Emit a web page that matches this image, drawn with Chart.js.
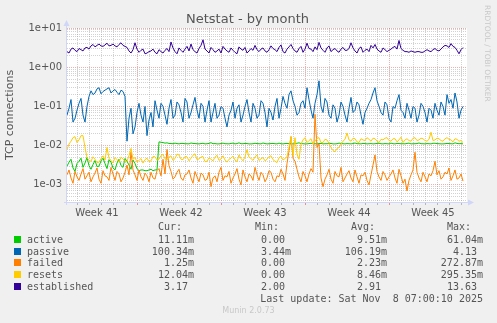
<!DOCTYPE html>
<html>
<head>
<meta charset="utf-8">
<script src="https://cdn.jsdelivr.net/npm/chart.js@4.4.1/dist/chart.umd.min.js"></script>
<style>
  html, body { margin: 0; padding: 0; background: #f0f0f0; }
  #wrap { position: relative; width: 497px; height: 323px; overflow: hidden; }
  #myChart { position: absolute; left: 0; top: 0; }
  .txt { position: absolute; white-space: pre; line-height: 12px; color: #555; }
  .title { font: 13px "DejaVu Sans", sans-serif; color: #555; }
  .mono { font: 10px "DejaVu Sans Mono", monospace; }
  .r { text-align: right; }
  .box { position: absolute; width: 7px; height: 7px; }
  .side { font: 7.5px "DejaVu Sans", sans-serif; color: #c8c8c8; writing-mode: vertical-rl; line-height: 9px; }
  .foot { font: 8px "DejaVu Sans", sans-serif; color: #c8c8c8; }
</style>
</head>
<body>
<div id="wrap">
  <canvas id="myChart" width="497" height="323"></canvas>
  <div class="txt title" style="left:0; width:495px; top:11px; text-align:center;">Netstat - by month</div>
  <div class="txt side" style="left:483px; top:5px;">RRDTOOL / TOBI OETIKER</div>
  <div id="legend"></div>
  <div class="txt foot" style="left:0; width:497px; top:306px; text-align:center;">Munin 2.0.73</div>
</div>
<script>
// samples every 4 hours; hour 0 is the left edge of the graph
const lastSample = 792;

const active = [
  0.003, 0.0038, 0.0045, 0.0027, 0.0022, 0.0035, 0.004, 0.0048, 0.0028, 0.0036,
  0.005, 0.0031, 0.0025, 0.0033, 0.0042, 0.0029, 0.003, 0.0041, 0.0048, 0.0035,
  0.0026, 0.0044, 0.0038, 0.0027, 0.0024, 0.0036, 0.0045, 0.0031, 0.0028, 0.0047,
  0.004, 0.0032, 0.0025, 0.0043, 0.0035, 0.0026, 0.0023, 0.0024, 0.0024, 0.0023,
  0.0023, 0.0024, 0.0025, 0.0023, 0.0024, 0.0024,
  0.0125, 0.0122, 0.012, 0.0116, 0.0118, 0.0114, 0.0113, 0.0112, 0.0116, 0.0113,
  0.0111, 0.0114, 0.0114, 0.0112, 0.0112, 0.0111, 0.0117, 0.0114, 0.0113, 0.0112,
  0.0111, 0.0113, 0.0115, 0.0111, 0.0112, 0.0114, 0.0119, 0.0112, 0.0113, 0.0111,
  0.0111, 0.0113, 0.0116, 0.0112, 0.0112, 0.0111, 0.0114, 0.0116, 0.0111, 0.0113,
  0.0118, 0.0112, 0.0112, 0.0114, 0.0113, 0.0111, 0.0111, 0.0112, 0.0115, 0.0113,
  0.0112, 0.0111, 0.0117, 0.0113, 0.0111, 0.0112, 0.0113, 0.0114, 0.0112, 0.0111,
  0.0116, 0.0112, 0.0111, 0.0113, 0.0114, 0.0112, 0.0112, 0.0111, 0.0113, 0.0115,
  0.0118, 0.0113, 0.0112, 0.0111, 0.0111, 0.0113, 0.0115, 0.0112, 0.0112, 0.0111,
  0.0113, 0.0114, 0.0111, 0.0112, 0.0112, 0.0113, 0.0114, 0.0111, 0.0111, 0.0112,
  0.0116, 0.0114, 0.0112, 0.0111, 0.0113, 0.0112, 0.0111, 0.0113, 0.0117, 0.0112,
  0.0112, 0.0111, 0.0114, 0.0113, 0.0111, 0.0112, 0.0113, 0.0111, 0.0112, 0.0114,
  0.0115, 0.0112, 0.0111, 0.0113, 0.0112, 0.0111, 0.0116, 0.0112, 0.0111, 0.0114,
  0.0113, 0.0112, 0.0112, 0.0111, 0.0114, 0.0116, 0.0111, 0.0112, 0.0112, 0.0113,
  0.0117, 0.0112, 0.0112, 0.0111, 0.0113, 0.0112, 0.0111, 0.0115, 0.0115, 0.0113,
  0.0112, 0.0111, 0.0111, 0.0112, 0.0114, 0.0113, 0.0112, 0.0111, 0.0118, 0.0114,
  0.0112, 0.0113, 0.01111
];

const passive = [
  0.06, 0.09, 0.15, 0.04, 0.05, 0.08, 0.12, 0.16, 0.06, 0.04,
  0.1, 0.18, 0.25, 0.2, 0.22, 0.28, 0.3, 0.21, 0.24, 0.26,
  0.28, 0.3, 0.22, 0.25, 0.27, 0.23, 0.2, 0.26, 0.24, 0.18,
  0.013, 0.05, 0.09, 0.02, 0.03, 0.07, 0.12, 0.06, 0.04, 0.1,
  0.018, 0.045, 0.07, 0.03, 0.14, 0.08, 0.05, 0.12, 0.1, 0.06,
  0.035, 0.09, 0.15, 0.05, 0.06, 0.13, 0.11, 0.07, 0.04, 0.16,
  0.13, 0.05, 0.07, 0.11, 0.17, 0.08, 0.05, 0.12, 0.1, 0.04,
  0.08, 0.14, 0.04, 0.07, 0.12, 0.05, 0.06, 0.1, 0.09, 0.05,
  0.03, 0.06, 0.08, 0.13, 0.05, 0.09, 0.11, 0.04, 0.06, 0.1,
  0.15, 0.07, 0.04, 0.12, 0.09, 0.05, 0.06, 0.14, 0.12, 0.07,
  0.03, 0.09, 0.07, 0.045, 0.1, 0.16, 0.05, 0.09, 0.18, 0.12,
  0.09, 0.2, 0.25, 0.14, 0.1, 0.06, 0.07, 0.12, 0.14, 0.09,
  0.3, 0.15, 0.08, 0.05, 0.12, 0.2, 0.45, 0.1, 0.07, 0.16,
  0.13, 0.06, 0.05, 0.11, 0.09, 0.04, 0.06, 0.13, 0.1, 0.06,
  0.04, 0.09, 0.17, 0.07, 0.08, 0.13, 0.11, 0.06, 0.035, 0.07,
  0.09, 0.12, 0.15, 0.22, 0.3, 0.14, 0.1, 0.07, 0.06, 0.13,
  0.11, 0.05, 0.04, 0.1, 0.09, 0.14, 0.2, 0.08, 0.07, 0.05,
  0.12, 0.08, 0.05, 0.1, 0.09, 0.04, 0.06, 0.12, 0.1, 0.07,
  0.04, 0.09, 0.08, 0.05, 0.12, 0.08, 0.06, 0.13, 0.1, 0.06,
  0.2, 0.12, 0.15, 0.09, 0.22, 0.13, 0.05, 0.08, 0.10034
];

const failed = [
  0.0018, 0.0024, 0.0015, 0.0011, 0.0022, 0.0016, 0.0013, 0.0019, 0.0026, 0.0014,
  0.0017, 0.0021, 0.0012, 0.0016, 0.002, 0.0027, 0.0014, 0.0011, 0.0023, 0.0017,
  0.0016, 0.0013, 0.0028, 0.0019, 0.0013, 0.0022, 0.0019, 0.0012, 0.0015, 0.0021,
  0.0032, 0.0018, 0.007, 0.0024, 0.0018, 0.0013, 0.0024, 0.0016, 0.0013, 0.002,
  0.0017, 0.0012, 0.0021, 0.0015, 0.0014, 0.0023, 0.0026, 0.0017, 0.0045, 0.0019,
  0.008, 0.0031, 0.0022, 0.0014, 0.0016, 0.0021, 0.0025, 0.0015, 0.0013, 0.0018,
  0.0019, 0.0024, 0.0015, 0.0011, 0.0022, 0.0016, 0.0012, 0.002, 0.0018, 0.0013,
  0.0014, 0.0021, 0.0009, 0.0015, 0.0017, 0.0012, 0.0021, 0.0028, 0.0013, 0.0017,
  0.0016, 0.0022, 0.0011, 0.0015, 0.0019, 0.0026, 0.0014, 0.001, 0.0024, 0.0016,
  0.0012, 0.0019, 0.0017, 0.0013, 0.0028, 0.0018, 0.0013, 0.0021, 0.0018, 0.0012,
  0.0015, 0.0023, 0.0021, 0.0014, 0.0012, 0.0017, 0.0016, 0.0025, 0.0019, 0.0013,
  0.0035, 0.0075, 0.017, 0.0048, 0.004, 0.0025, 0.0016, 0.0012, 0.0022, 0.0017,
  0.0012, 0.0019, 0.0026, 0.0021, 0.063, 0.009, 0.011, 0.0015, 0.0009, 0.0014,
  0.0018, 0.0025, 0.0014, 0.0011, 0.0022, 0.0017, 0.0016, 0.0028, 0.0012, 0.0015,
  0.0019, 0.0023, 0.0015, 0.0012, 0.0024, 0.0016, 0.0011, 0.0018, 0.0017, 0.0021,
  0.0013, 0.001, 0.0018, 0.0032, 0.0058, 0.0022, 0.0016, 0.0013, 0.0022, 0.0018,
  0.0013, 0.0016, 0.0019, 0.0024, 0.0015, 0.0011, 0.0025, 0.0017, 0.0011, 0.0014,
  0.0007, 0.0013, 0.0018, 0.0024, 0.0068, 0.0021, 0.0015, 0.0012, 0.0021, 0.0016,
  0.0012, 0.0019, 0.0017, 0.0023, 0.004, 0.0018, 0.0023, 0.0014, 0.0016, 0.0021,
  0.0019, 0.0027, 0.0013, 0.0017, 0.0024, 0.0014, 0.0015, 0.0019, 0.00125
];

const resets = [
  0.008, 0.011, 0.013, 0.016, 0.017, 0.012, 0.014, 0.018, 0.018, 0.009,
  0.005, 0.0042, 0.004, 0.0052, 0.0045, 0.0037, 0.0038, 0.0047, 0.0055, 0.0043,
  0.009, 0.0048, 0.0042, 0.0036, 0.005, 0.0044, 0.0038, 0.0051, 0.0046, 0.0039,
  0.004, 0.0056, 0.0085, 0.0045, 0.005, 0.0038, 0.0042, 0.0047, 0.0036, 0.0044,
  0.0048, 0.0039, 0.0041, 0.0053, 0.0052, 0.0043, 0.0045, 0.0056, 0.006, 0.0046,
  0.0043, 0.0051, 0.0055, 0.0042, 0.0047, 0.0061, 0.0058, 0.0045, 0.0044, 0.0053,
  0.0052, 0.0041, 0.0048, 0.0057, 0.0062, 0.0044, 0.0046, 0.0051, 0.0053, 0.0039,
  0.004, 0.0049, 0.0045, 0.0041, 0.0051, 0.0057, 0.0042, 0.0046, 0.0055, 0.0043,
  0.0038, 0.0045, 0.0048, 0.0054, 0.0043, 0.0039, 0.0058, 0.0047, 0.0041, 0.0052,
  0.0079, 0.0051, 0.0047, 0.0042, 0.0052, 0.0058, 0.0042, 0.0046, 0.005, 0.0041,
  0.0045, 0.0053, 0.0055, 0.0044, 0.004, 0.0037, 0.0049, 0.0054, 0.0043, 0.0047,
  0.0052, 0.009, 0.017, 0.0055, 0.016, 0.006, 0.0045, 0.011, 0.014, 0.016,
  0.012, 0.0135, 0.015, 0.011, 0.013, 0.0155, 0.016, 0.012, 0.012, 0.0145,
  0.014, 0.0115, 0.009, 0.0075, 0.007, 0.0085, 0.009, 0.011, 0.013, 0.0145,
  0.021, 0.014, 0.013, 0.0155, 0.015, 0.0125, 0.012, 0.015, 0.014, 0.0135,
  0.016, 0.0145, 0.013, 0.0155, 0.015, 0.013, 0.012, 0.0145, 0.014, 0.0155,
  0.016, 0.0135, 0.013, 0.015, 0.015, 0.0125, 0.014, 0.0165, 0.012, 0.014,
  0.015, 0.0135, 0.013, 0.0155, 0.016, 0.0135, 0.014, 0.0155, 0.015, 0.0135,
  0.013, 0.0145, 0.022, 0.0135, 0.014, 0.0155, 0.015, 0.0135, 0.013, 0.015,
  0.016, 0.0145, 0.014, 0.0125, 0.015, 0.0145, 0.013, 0.0135, 0.01204
];

const established = [
  2.5, 2.3, 2.9, 3.1, 2.7, 2.5, 3.0, 2.8, 2.6, 3.1,
  3.2, 2.9, 3.5, 3.8, 3.3, 3.6, 3.9, 3.5, 3.4, 3.7,
  4.1, 3.5, 3.6, 3.9, 3.5, 3.3, 3.8, 4.2, 3.6, 3.4,
  3.2, 2.6, 2.3, 2.8, 4.2, 2.9, 2.4, 2.7, 2.9, 2.2,
  2.3, 2.5, 2.6, 2.9, 2.4, 2.2, 2.8, 2.5, 2.3, 2.7,
  3.0, 2.5, 4.4, 3.1, 2.5, 2.2, 3.1, 2.7, 2.4, 2.9,
  3.4, 2.6, 3.9, 2.8, 2.5, 2.3, 3.0, 3.6, 5.0, 2.9,
  2.6, 2.3, 3.2, 2.8, 2.4, 2.6, 2.9, 2.3, 3.4, 2.9,
  2.6, 2.4, 3.1, 2.7, 2.4, 2.2, 3.3, 2.9, 2.7, 3.2,
  2.3, 2.6, 3.0, 2.7, 3.6, 2.8, 2.5, 2.9, 3.1, 2.6,
  2.4, 2.8, 3.5, 3.0, 2.8, 2.5, 3.2, 3.7, 2.5, 2.3,
  2.9, 3.3, 3.8, 3.0, 2.6, 2.4, 3.0, 3.4, 2.4, 2.9,
  4.1, 3.0, 2.9, 2.5, 3.3, 2.8, 4.3, 3.1, 2.7, 2.4,
  3.1, 3.5, 2.5, 2.8, 3.0, 2.6, 2.4, 2.9, 3.2, 2.7,
  2.7, 3.0, 4.2, 3.1, 2.6, 2.3, 3.0, 3.3, 2.4, 2.7,
  2.9, 2.5, 3.6, 3.1, 3.8, 2.9, 2.6, 2.4, 3.1, 2.8,
  2.5, 2.7, 2.9, 3.2, 3.4, 2.9, 4.8, 3.0, 2.7, 2.5,
  2.5, 2.4, 2.6, 2.5, 2.4, 2.5, 2.5, 2.4, 2.4, 2.6,
  2.8, 2.6, 2.5, 2.8, 3.0, 2.7, 2.6, 2.9, 3.3, 3.6,
  3.5, 3.2, 4.0, 3.4, 3.2, 2.7, 2.2, 2.8, 3.17
];

const seriesNames = ['active', 'passive', 'failed', 'resets', 'established'];
const seriesColors = ['#00cc00', '#0066b3', '#ff8000', '#ffcc00', '#330099'];
const seriesData = [active, passive, failed, resets, established];

// summary columns as printed under the graph
const curValues = ['11.11m', '100.34m', '1.25m', '12.04m', '3.17 '];
const minValues = ['0.00 ', '3.44m', '0.00 ', '0.00 ', '2.00 '];
const avgValues = ['9.51m', '106.19m', '2.23m', '8.46m', '2.91 '];
const maxValues = ['61.04m', '4.13 ', '272.87m', '295.35m', '13.63 '];

const weekLabels = ['Week 41', 'Week 42', 'Week 43', 'Week 44', 'Week 45'];
const firstMonday = 140;    // hour of the first week boundary
const firstMidnight = 20;   // hour of the first day line
const endHour = 800;
const yMin = 3.66e-4;
const yMax = 10;

const weekStarts = weekLabels.slice(1).map((_, k) => firstMonday + k * 168);
const labelHours = weekLabels.map((_, k) => firstMonday - 80 + k * 168);

function toPoints(values) {
    let step = lastSample / (values.length - 1);
    return values.map((v, j) => ({ x: j * step, y: v }));
}

function expLabel(v) {
    let e = Math.round(Math.log10(v));
    let s = Math.abs(e) < 10 ? '0' + Math.abs(e) : '' + Math.abs(e);
    return '1e' + (e < 0 ? '-' : '+') + s;
}

function isDecade(v) {
    let l = Math.log10(v);
    return Math.abs(l - Math.round(l)) < 1e-9;
}

// white plot background plus the axis lines with their arrow heads
const frame = {
    id: 'frame',
    beforeDraw(chart) {
        const { ctx, chartArea: a } = chart;
        ctx.save();
        ctx.fillStyle = '#ffffff';
        ctx.fillRect(a.left, a.top, a.right - a.left, a.bottom - a.top);
        ctx.restore();
    },
    afterDraw(chart) {
        const { ctx, chartArea: a } = chart;
        ctx.save();
        ctx.strokeStyle = '#cfd6f8';
        ctx.fillStyle = '#cfd6f8';
        ctx.lineWidth = 1;
        ctx.beginPath();
        ctx.moveTo(a.left - 0.5, a.bottom + 3);
        ctx.lineTo(a.left - 0.5, a.top - 4);
        ctx.moveTo(a.left - 3, a.bottom + 0.5);
        ctx.lineTo(a.right + 3, a.bottom + 0.5);
        ctx.stroke();
        ctx.beginPath();
        ctx.moveTo(a.left - 0.5, a.top - 8);
        ctx.lineTo(a.left - 3.5, a.top - 2);
        ctx.lineTo(a.left + 2.5, a.top - 2);
        ctx.fill();
        ctx.beginPath();
        ctx.moveTo(a.right + 7, a.bottom + 0.5);
        ctx.lineTo(a.right + 1, a.bottom - 2.5);
        ctx.lineTo(a.right + 1, a.bottom + 3.5);
        ctx.fill();
        ctx.restore();
    }
};

const ctx = document.getElementById('myChart').getContext('2d');

const myChart = new Chart(ctx, {
    type: 'line',
    data: {
        datasets: seriesNames.map((name, i) => ({
            label: name,
            data: toPoints(seriesData[i]),
            borderColor: seriesColors[i],
            borderWidth: 1,
            pointRadius: 0,
            tension: 0,
            fill: false,
            order: seriesNames.length - i
        }))
    },
    options: {
        responsive: false,
        animation: false,
        devicePixelRatio: 1,
        layout: { padding: { top: 28, right: 30, left: 0, bottom: 0 } },
        plugins: {
            legend: { display: false },
            tooltip: { enabled: false }
        },
        scales: {
            x: {
                type: 'linear',
                min: 0,
                max: endHour,
                afterBuildTicks: scale => {
                    let t = [];
                    for (let h = firstMidnight; h < endHour; h += 24) t.push({ value: h });
                    labelHours.forEach(h => t.push({ value: h }));
                    t.sort((a, b) => a.value - b.value);
                    scale.ticks = t;
                },
                afterFit: scale => { scale.height = 121; },
                border: { display: false, dash: [1, 1] },
                grid: {
                    color: c => {
                        let v = c.tick.value;
                        if (labelHours.includes(v)) return 'rgba(0,0,0,0)';
                        return weekStarts.includes(v) ? 'rgba(222,79,79,0.45)' : 'rgba(143,143,143,0.4)';
                    },
                    tickColor: c => {
                        let v = c.tick.value;
                        if (labelHours.includes(v)) return 'rgba(0,0,0,0)';
                        return weekStarts.includes(v) ? 'rgba(222,79,79,0.6)' : 'rgba(143,143,143,0.6)';
                    },
                    tickLength: 3,
                    lineWidth: 1
                },
                ticks: {
                    autoSkip: false,
                    maxRotation: 0,
                    padding: 2,
                    color: '#555',
                    font: { family: 'DejaVu Sans', size: 10 },
                    callback: v => {
                        let k = labelHours.indexOf(v);
                        return k >= 0 ? weekLabels[k] : '';
                    }
                }
            },
            y: {
                type: 'logarithmic',
                min: yMin,
                max: yMax,
                afterBuildTicks: scale => {
                    let t = [];
                    for (let e = -4; e <= 1; e++) {
                        for (let m = 1; m <= 9; m++) {
                            let v = m * Math.pow(10, e);
                            if (v >= yMin && v <= yMax * 1.0001) t.push({ value: v });
                        }
                    }
                    scale.ticks = t;
                },
                afterFit: scale => { scale.width = 67; },
                border: { display: false, dash: [1, 1] },
                grid: {
                    color: c => isDecade(c.tick.value) ? 'rgba(222,79,79,0.45)' : 'rgba(143,143,143,0.4)',
                    drawTicks: false,
                    lineWidth: 1
                },
                ticks: {
                    autoSkip: false,
                    padding: 5,
                    color: '#555',
                    font: { family: 'DejaVu Sans', size: 10 },
                    callback: v => isDecade(v) ? expLabel(v) : ''
                },
                title: {
                    display: true,
                    text: 'TCP connections',
                    color: '#555',
                    font: { family: 'DejaVu Sans', size: 11 },
                    padding: { top: 4, bottom: 0 }
                }
            }
        }
    },
    plugins: [frame]
});

// text legend below the graph, columns right aligned like rrdtool prints them
function addText(cls, text, left, top, right) {
    let d = document.createElement('div');
    d.className = 'txt mono' + (cls ? ' ' + cls : '');
    d.textContent = text;
    if (right !== undefined) {
        d.style.right = (497 - right) + 'px';
    } else {
        d.style.left = left + 'px';
    }
    d.style.top = top + 'px';
    document.getElementById('legend').appendChild(d);
}

const colRight = [194, 291, 387, 483];
const headers = ['Cur:', 'Min:', 'Avg:', 'Max:'];
headers.forEach((h, k) => addText('r', h, 0, 221, colRight[k] - 12));

const rowTops = [234, 246, 257, 269, 281];
seriesNames.forEach((name, i) => {
    let b = document.createElement('div');
    b.className = 'box';
    b.style.left = '14px';
    b.style.top = (rowTops[i] + 2) + 'px';
    b.style.background = seriesColors[i];
    document.getElementById('legend').appendChild(b);
    addText('', name, 27, rowTops[i]);
    [curValues, minValues, avgValues, maxValues].forEach((col, k) => {
        addText('r', col[i], 0, rowTops[i], colRight[k]);
    });
});
addText('r', 'Last update: Sat Nov  8 07:00:10 2025', 0, 293, 483);
</script>
</body>
</html>
